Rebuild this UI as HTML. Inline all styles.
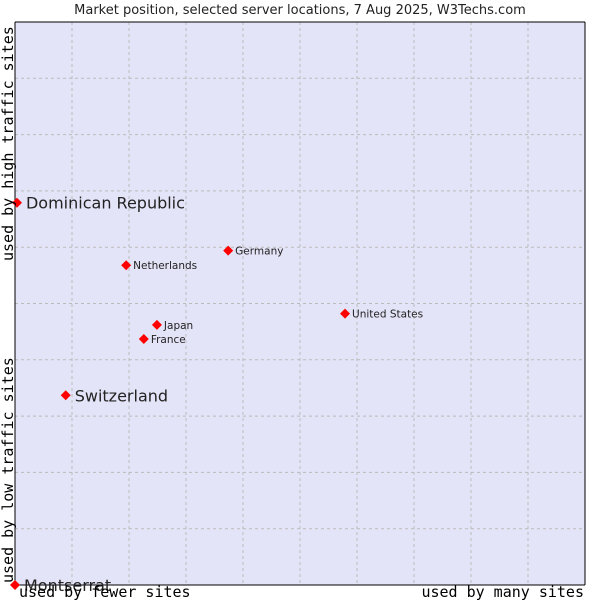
<!DOCTYPE html>
<html><head><meta charset="utf-8"><style>
body{margin:0;background:#fff;}
svg text{font-family:"DejaVu Sans","Liberation Sans",sans-serif;}
.mono{font-family:"DejaVu Sans Mono","Liberation Mono",monospace;}
</style></head><body>
<svg id="chart" width="600" height="600">
<text x="300" y="14" text-anchor="middle" font-size="13" fill="#222">Market position, selected server locations, 7 Aug 2025, W3Techs.com</text>
<rect x="15" y="22" width="570" height="563" fill="#e4e4f8"/>
<g id="grid"></g>
<line x1="15" y1="22" x2="15" y2="585" stroke="#000"/>
<line x1="15" y1="585" x2="585" y2="585" stroke="#000"/>
<line x1="15" y1="22" x2="585" y2="22" stroke="#000"/>
<line x1="585" y1="22" x2="585" y2="585" stroke="#000"/>
<g id="points"></g>
<text class="mono" x="19" y="597" font-size="15" fill="#000">used by fewer sites</text>
<text class="mono" x="584" y="597" font-size="15" text-anchor="end" fill="#000">used by many sites</text>
<text class="mono" transform="translate(13,261) rotate(-90)" font-size="15" fill="#000">used by high traffic sites</text>
<text class="mono" transform="translate(13,583) rotate(-90)" font-size="15" fill="#000">used by low traffic sites</text>
</svg>
<script>
const names=["Dominican Republic","Switzerland","Montserrat","Netherlands","Germany","United States","Japan","France"];
const xVals=[0.35,8.9,0,19.5,37.4,57.9,24.9,22.6];
const yVals=[67.9,33.7,0,56.8,59.4,48.2,46.2,43.7];
const big=[true,true,true,false,false,false,false,false];
const NS="http://www.w3.org/2000/svg";
const X=v=>15+v*5.7, Y=v=>585-v*5.63;
const grid=document.getElementById('grid');
for(let i=1;i<10;i++){
 const l=document.createElementNS(NS,'line');
 l.setAttribute('x1',X(i*10));l.setAttribute('x2',X(i*10));l.setAttribute('y1',22);l.setAttribute('y2',585);
 l.setAttribute('stroke','#bbb');l.setAttribute('stroke-dasharray','3,3');
 
 
 grid.appendChild(l);
 const h=document.createElementNS(NS,'line');
 h.setAttribute('y1',Y(i*10));h.setAttribute('y2',Y(i*10));h.setAttribute('x1',15);h.setAttribute('x2',585);
 h.setAttribute('stroke','#bbb');h.setAttribute('stroke-dasharray','3,3');
 
 
 grid.appendChild(h);
}
const pts=document.getElementById('points');
names.forEach((n,i)=>{
 const cx=X(xVals[i]),cy=Y(yVals[i]);
 const d=document.createElementNS(NS,'path');
 d.setAttribute('d',`M${cx-5},${cy}L${cx},${cy-5}L${cx+5},${cy}L${cx},${cy+5}Z`);
 d.setAttribute('fill','#f00');
 
 
 pts.appendChild(d);
 const t=document.createElementNS(NS,'text');
 t.setAttribute('x',cx+(big[i]?9:7));t.setAttribute('y',cy+(big[i]?6:4));
 t.setAttribute('font-size',big[i]?16:10.5);t.setAttribute('fill','#222');
 t.textContent=n;
 
 
 pts.appendChild(t);
});
</script>
</body></html>
